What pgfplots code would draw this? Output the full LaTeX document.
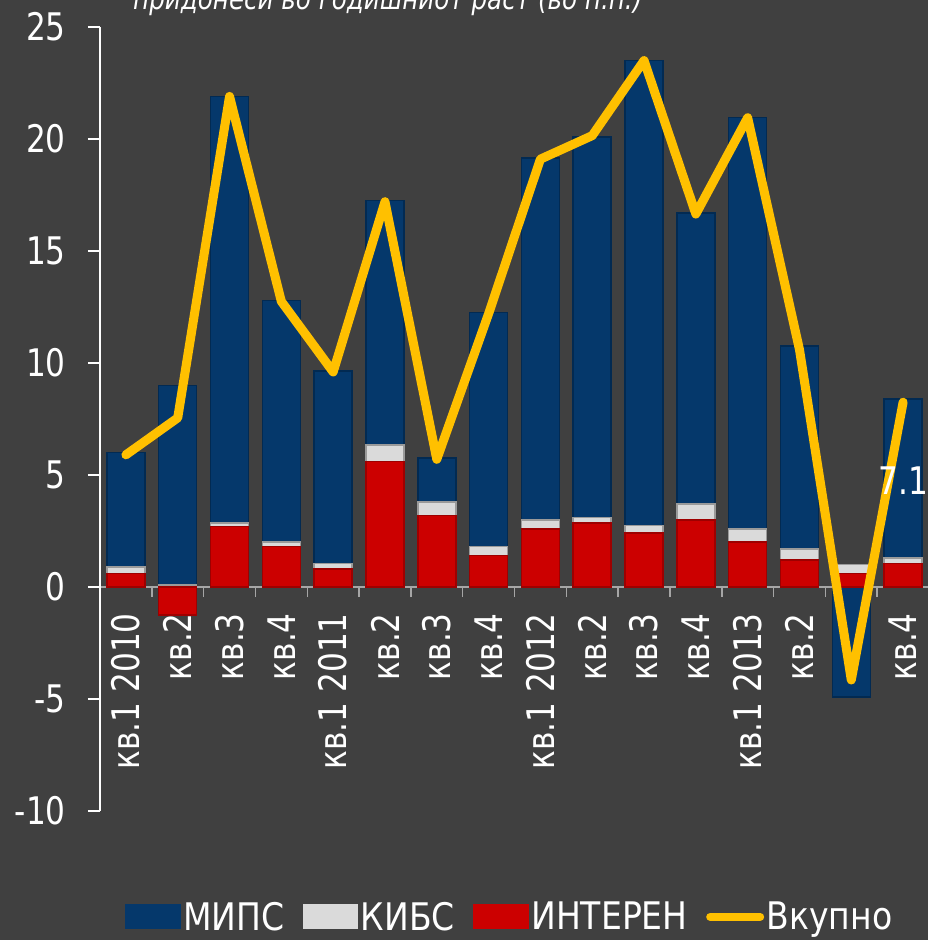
\documentclass[border=0pt]{standalone}
\usepackage{fontspec}
\setmainfont{DejaVu Sans}[FakeStretch=0.82]
\newfontfamily\legfont{DejaVu Sans}[FakeStretch=0.87]
\usepackage{graphicx}
\usepackage{pgfplots}
\usepackage{pgfplotstable}
\pgfplotsset{compat=1.18}
\definecolor{bg}{HTML}{404040}
\definecolor{mips}{HTML}{05386B}
\definecolor{mipsd}{HTML}{022A52}
\definecolor{kibs}{HTML}{DADADA}
\definecolor{kibsd}{HTML}{9A9A9A}
\definecolor{intr}{HTML}{CC0000}
\definecolor{intrd}{HTML}{9E0000}
\definecolor{vk}{HTML}{FFC000}
\definecolor{axgray}{HTML}{A6A6A6}
\newcommand\bigf{\fontsize{38}{40}\selectfont}
\pgfplotstableread{
i I K M T
0 0.6 0.3 5.1 5.9
1 -1.25 0.1 8.9 7.55
2 2.7 0.15 19.05 21.9
3 1.8 0.2 10.8 12.75
4 0.8 0.25 8.6 9.6
5 5.6 0.75 10.9 17.2
6 3.2 0.6 1.95 5.7
7 1.4 0.4 10.45 12.2
8 2.6 0.4 16.15 19.1
9 2.85 0.25 17.0 20.15
10 2.4 0.35 20.75 23.5
11 3.0 0.7 13.0 16.65
12 2.0 0.6 18.35 20.95
13 1.2 0.5 9.05 10.6
14 0.6 0.4 -4.9 -4.15
15 1.05 0.25 7.1 8.25
}\data
\begin{document}
\begin{tikzpicture}[x=1pt,y=1pt]
\fill[bg] (0,0) rectangle (928,940);
\useasboundingbox (0,0) rectangle (928,940);
\node[anchor=base west, inner sep=0pt, text=white, font=\fontsize{30}{32}\selectfont\itshape] at (133,930) {придонеси во годишниот раст (во п.п.)};
\begin{axis}[
  scale only axis, width=829pt, height=784pt,
  at={(100pt,129pt)}, anchor=south west,
  xmin=-0.5, xmax=15.5, ymin=-10, ymax=25,
  ybar, bar width=38pt, bar shift=0pt,
  axis y line*=left, axis x line*=middle,
  y axis line style={white, line width=1.2pt},
  x axis line style={axgray, line width=2pt},
  xtick={0,...,15},
  xticklabels={кв.1 2010, кв.2, кв.3, кв.4, кв.1 2011, кв.2, кв.3, кв.4, кв.1 2012, кв.2, кв.3, кв.4, кв.1 2013, кв.2, кв.3, кв.4},
  minor x tick num=1,
  major x tick style={draw=none},
  minor x tick style={axgray, line width=1.5pt},
  minor tick length=10pt,
  major tick length=12pt,
  tick align=outside,
  ytick={-10,-5,...,25},
  yticklabels={-10,-5,0,5,10,15,20,25},
  major y tick style={white, line width=1.2pt},
  ticklabel style={text=white, font=\bigf},
  xticklabel style={rotate=90, anchor=east, inner sep=0pt},
  xticklabel shift=14pt,
  yticklabel style={anchor=east, inner sep=0pt},
  yticklabel shift=22pt,
  legend columns=-1,
  legend style={at={(0.4946,-0.135)}, anchor=center, draw=none, fill=none,
    text=white, font=\legfont\bigf, nodes={inner xsep=2.5pt},
    /tikz/every even column/.append style={column sep=16pt}},
]
\addplot[fill=mips, draw=mipsd, line width=1.5pt,
  legend image code/.code={\fill[mips] (0pt,-11pt) rectangle (54pt,12pt);}]
  table[x=i, y expr={\thisrow{M} >= 0 ? max(\thisrow{I},0)+\thisrow{K}+\thisrow{M} : \thisrow{M}}] {\data};
\addlegendentry{МИПС}
\addplot[fill=kibs, draw=kibsd, line width=1.5pt,
  legend image code/.code={\fill[kibs] (0pt,-11pt) rectangle (54pt,12pt);}]
  table[x=i, y expr={max(\thisrow{I},0)+\thisrow{K}}] {\data};
\addlegendentry{КИБС}
\addplot[fill=intr, draw=intrd, line width=1.5pt,
  legend image code/.code={\fill[intr] (0pt,-11pt) rectangle (54pt,12pt);}]
  table[x=i, y=I] {\data};
\addlegendentry{ИНТЕРЕН}
\addplot[sharp plot, vk, line width=9pt, line join=round, line cap=round, mark=none,
  legend image code/.code={\draw[vk, line width=8pt, line cap=round] (4pt,0pt) -- (54pt,0pt);}]
  table[x=i, y=T] {\data};
\addlegendentry{Вкупно}
\node[text=white, font=\bigf, inner sep=0pt] at (axis cs:15,4.75) {7.1};
\end{axis}
\end{tikzpicture}
\end{document}
